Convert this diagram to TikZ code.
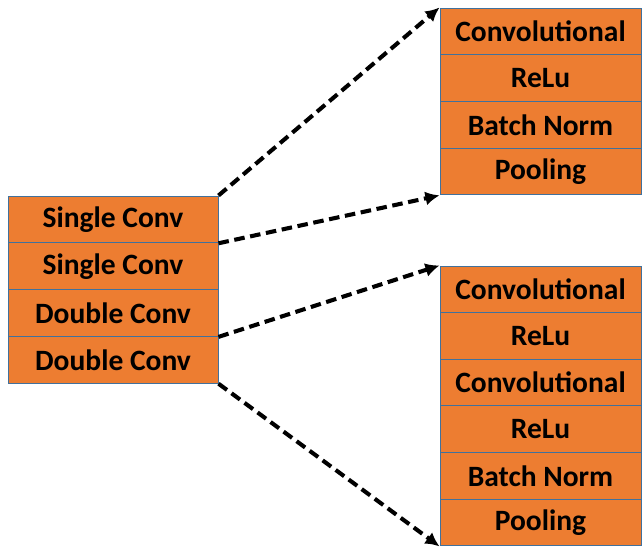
\documentclass[tikz,border=0pt]{standalone}
\usepackage{fontspec}
\setmainfont{Carlito}
\usetikzlibrary{arrows.meta}
\definecolor{cellfill}{HTML}{ED7D31}
\definecolor{celledge}{HTML}{41719C}

\begin{document}
\begin{tikzpicture}[
  x=1cm, y=1cm,
  every node/.style={inner sep=1pt},
  cell/.style={rectangle, draw=celledge, line width=0.7pt, fill=cellfill,
    inner sep=0pt, minimum height=1.17cm, font=\fontsize{21}{23}\selectfont\bfseries},
  lcell/.style={cell, minimum width=5.25cm},
  rcell/.style={cell, minimum width=5.025cm, minimum height=1.168cm},
  % thick dashed pointer from the left stack to an expanded block
  link/.style={draw, line width=2.9pt, dash pattern=on 7.5pt off 4pt,
    -{Latex[length=10pt, width=10pt]}}]

  \useasboundingbox (0,0) rectangle (16.05,13.65);

  % left stack
  \node[lcell] (s1) at (2.825,8.165) {Single Conv};
  \node[lcell] (s2) at (2.825,6.995) {Single Conv};
  \node[lcell] (s3) at (2.825,5.825) {Double Conv};
  \node[lcell] (s4) at (2.825,4.655) {Double Conv};

  % single conv block
  \node[rcell] (a1) at (13.5125,12.866) {Convolutional};
  \node[rcell] (a2) at (13.5125,11.698) {ReLu};
  \node[rcell] (a3) at (13.5125,10.530) {Batch Norm};
  \node[rcell] (a4) at (13.5125,9.362)  {Pooling};

  % double conv block
  \node[rcell] (b1) at (13.5125,6.416) {Convolutional};
  \node[rcell] (b2) at (13.5125,5.250) {ReLu};
  \node[rcell] (b3) at (13.5125,4.084) {Convolutional};
  \node[rcell] (b4) at (13.5125,2.918) {ReLu};
  \node[rcell] (b5) at (13.5125,1.752) {Batch Norm};
  \node[rcell] (b6) at (13.5125,0.586) {Pooling};

  % arrows
  \draw[link] (s1.north east) -- (a1.north west);
  \draw[link] (s1.south east) -- (a4.south west);
  \draw[link] (s3.south east) -- (b1.north west);
  \draw[link] (s4.south east) -- (b6.south west);
\end{tikzpicture}
\end{document}
